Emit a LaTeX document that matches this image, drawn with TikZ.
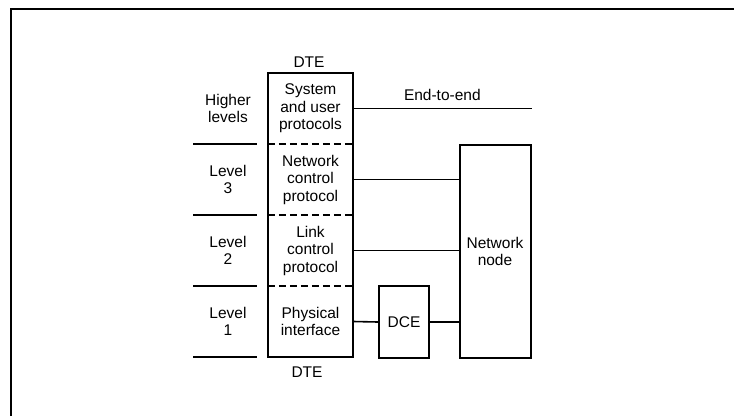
\documentclass[tikz,border=0pt]{standalone}
\usepackage{fontspec}
\setmainfont{Liberation Sans}
\usetikzlibrary{positioning}
\tikzset{
  layer/.style={minimum width=85pt, minimum height=71pt, inner sep=0pt, align=center},
  unitbox/.style={draw, line width=2pt, inner sep=0pt, align=center},
  layerrule/.style={dash pattern=on 7pt off 4pt, line width=1.6pt},
  levelrule/.style={line width=1.6pt},
  conn/.style={line width=1.6pt}
}

\begin{document}
\begin{tikzpicture}[x=1pt,y=-1pt,font=\fontsize{15.5}{17.5}\selectfont]
  \useasboundingbox (0,0) rectangle (734,416);
  % frame, cut off at right and bottom
  \draw[line width=2.2pt] (11,416) -- (11,9) -- (734,9);
  % DTE protocol stack
  \foreach \name/\txt [count=\i from 0] in {
    sys/System\\and user\\protocols,
    net/Network\\control\\protocol,
    link/Link\\control\\protocol,
    phys/Physical\\interface}{%
    \node[layer] (\name) at (310.5,{108.5+\i*71}) {\txt};
  }
  \draw[unitbox] (sys.north west) rectangle (phys.south east);
  \foreach \n in {sys,net,link}
    \draw[layerrule] (\n.south west) -- (\n.south east);
  \node (dtetop) at (309,62) {DTE};
  \node (dtebot) at (307,372) {DTE};
  % level names and rules
  \foreach \lbl [count=\i from 0] in {{Higher\\levels},{Level\\3},{Level\\2},{Level\\1}}{%
    \node[align=center] (lv\i) at (228,{108.5+\i*71}) {\lbl};
    \draw[levelrule] (193,{144+\i*71}) -- (257,{144+\i*71});
  }
  % network side
  \node[unitbox, minimum width=71pt, minimum height=213pt] (nwnode) at (495,251.5) {Network\\node};
  \node[unitbox, minimum width=50pt, minimum height=72pt] (dce) at (404,322) {DCE};
  \draw[conn] (sys.east) -- (sys.east -| nwnode.east)
    node[midway, above=4pt] (e2e) {End-to-end};
  \draw[conn] (net.east) -- (net.east -| nwnode.west);
  \draw[conn] (link.east) -- (link.east -| nwnode.west);
  \draw[conn] (phys.east) -- (dce.west);
  \draw[conn] (dce.east) -- (dce.east -| nwnode.west);
\end{tikzpicture}
\end{document}
